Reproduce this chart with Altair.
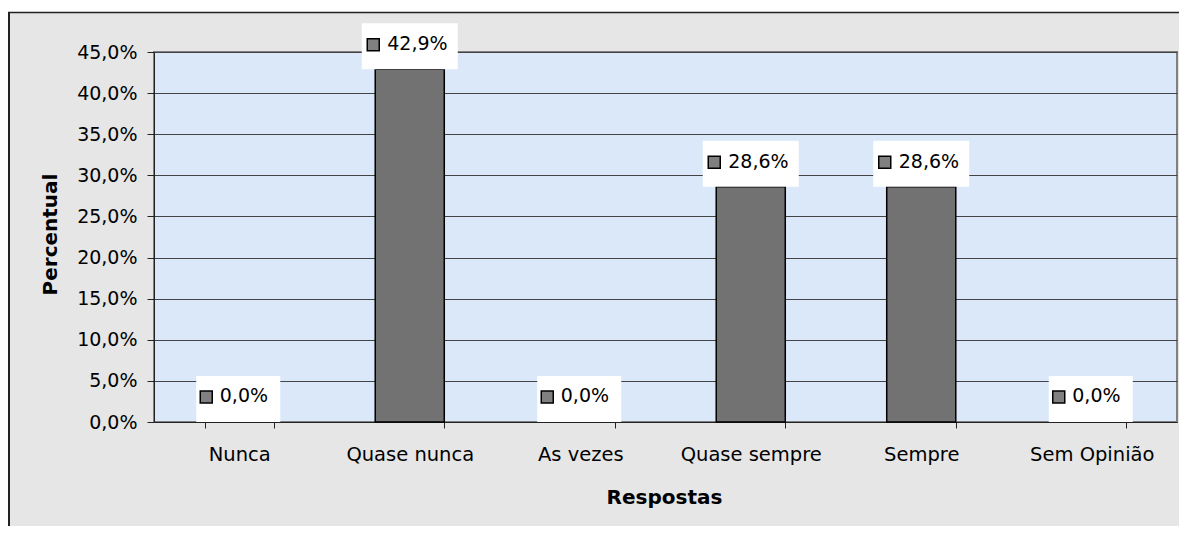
import altair as alt
import pandas as pd

categories = ["Nunca", "Quase nunca", "As vezes", "Quase sempre", "Sempre", "Sem Opinião"]
values = [0.0, 42.9, 0.0, 28.6, 28.6, 0.0]
y_ticks = [0, 5, 10, 15, 20, 25, 30, 35, 40, 45]

df = pd.DataFrame({"Resposta": categories, "Percentual": values})

FONT = "DejaVu Sans"
label_expr = "replace(format(datum.Percentual, '.1f'), '.', ',') + '%'"

x_enc = alt.X(
    "Resposta:N",
    sort=categories,
    scale=alt.Scale(paddingInner=0.595, paddingOuter=0.2975),
    axis=alt.Axis(
        title="Respostas",
        titleFont=FONT,
        titleFontSize=20,
        titleFontWeight="bold",
        titleColor="black",
        titleBaseline="alphabetic",
        titleY=81,
        titleX=510,
        labelAngle=0,
        labelFont=FONT,
        labelFontSize=19.5,
        labelColor="black",
        labelPadding=17,
        tickBand="extent",
        tickSize=6,
        tickColor="#222222",
        domainColor="#222222",
        grid=False,
    ),
)
y_enc = alt.Y(
    "Percentual:Q",
    scale=alt.Scale(domain=[0, 45], nice=False),
    axis=alt.Axis(
        title="Percentual",
        titleFont=FONT,
        titleFontSize=20,
        titleFontWeight="bold",
        titleColor="black",
        titleBaseline="alphabetic",
        titleX=-98,
        titleY=182,
        values=y_ticks,
        labelExpr="replace(format(datum.value, '.1f'), '.', ',') + '%'",
        labelFont=FONT,
        labelFontSize=19,
        labelColor="black",
        labelPadding=10,
        tickSize=7,
        tickColor="#222222",
        domainColor="#222222",
        grid=True,
        gridColor="#444444",
        gridWidth=1,
    ),
)

base = alt.Chart(df).encode(x=x_enc, y=y_enc)

bars = base.transform_filter("datum.Percentual > 0").mark_bar(
    fill="#727272", stroke="black", strokeWidth=1.5
)

big_box = "M-1,-0.479L1,-0.479L1,0.479L-1,0.479Z"
small_box = "M-0.875,-0.479L0.875,-0.479L0.875,0.479L-0.875,0.479Z"

box_big = base.transform_filter("datum.Percentual > 0").mark_point(
    shape=big_box, size=9216, filled=True, fill="white", opacity=1,
    strokeWidth=0, yOffset=-23
)
box_small = base.transform_filter("datum.Percentual == 0").mark_point(
    shape=small_box, size=9216, filled=True, fill="white", opacity=1,
    strokeWidth=0, yOffset=-23, xOffset=-1
)

marker_big = base.transform_filter("datum.Percentual > 0").mark_point(
    shape="square", size=144, filled=True, fill="#808080", stroke="black",
    strokeWidth=1.5, opacity=1, xOffset=-36.5, yOffset=-24.5
)
marker_small = base.transform_filter("datum.Percentual == 0").mark_point(
    shape="square", size=144, filled=True, fill="#808080", stroke="black",
    strokeWidth=1.5, opacity=1, xOffset=-33, yOffset=-25
)

text_big = base.transform_filter("datum.Percentual > 0").transform_calculate(
    label=label_expr
).mark_text(
    align="left", baseline="alphabetic", dx=-22.5, dy=-19,
    font=FONT, fontSize=19, color="black"
).encode(text="label:N")
text_small = base.transform_filter("datum.Percentual == 0").transform_calculate(
    label=label_expr
).mark_text(
    align="left", baseline="alphabetic", dx=-19.5, dy=-20,
    font=FONT, fontSize=19, color="black"
).encode(text="label:N")

deco = alt.Chart(pd.DataFrame({"d": [0]}))
white_strip = deco.mark_rect(fill="white").encode(
    x=alt.value(-150), x2=alt.value(1100), y=alt.value(-50), y2=alt.value(-40)
)
top_line = deco.mark_rule(color="#222222", strokeWidth=1.5).encode(
    x=alt.value(-146), x2=alt.value(1100), y=alt.value(-39.5)
)
left_line = deco.mark_rule(color="#222222", strokeWidth=2).encode(
    x=alt.value(-145), y=alt.value(-40), y2=alt.value(560)
)

chart = alt.layer(
    bars, box_big, box_small, marker_big, marker_small, text_big, text_small,
    white_strip, top_line, left_line,
).properties(
    width=1023,
    height=370,
    padding={"left": 146, "top": 44, "right": 2, "bottom": 104},
    autosize=alt.AutoSizeParams(type="none"),
    background="#e6e6e6",
).configure_view(
    fill="#dae8fa", stroke="#808080", strokeWidth=2
)

chart.save("out.html", embed_options={"renderer": "svg", "actions": False})
